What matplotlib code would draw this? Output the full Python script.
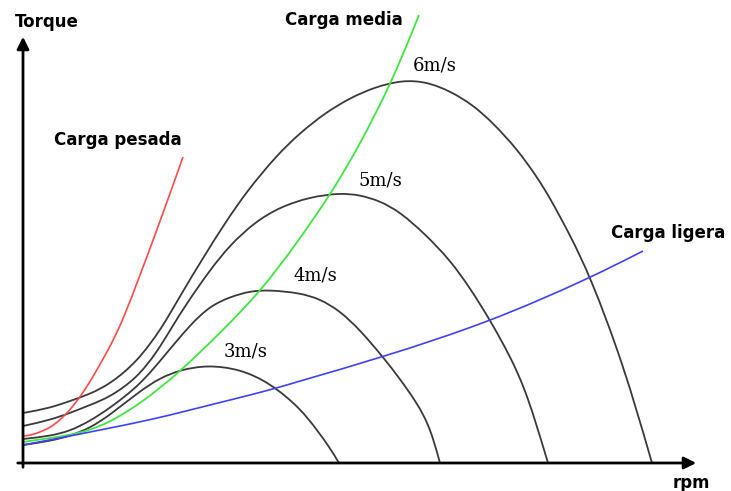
import numpy as np
import matplotlib.pyplot as plt
from matplotlib.path import Path
from matplotlib.patches import PathPatch

# chart units: rpm to the right of the origin, torque above it
rpm_3 = [0, 27, 47, 67, 87, 117, 137, 157, 184, 217, 247, 277, 294, 307, 316]
tq_3 = [18, 22, 27, 35, 48, 72, 85, 93, 98, 94, 80, 55, 33, 15, 0]

rpm_4 = [0, 27, 47, 67, 87, 117, 142, 167, 187, 207, 227, 247, 277, 297, 317, 337, 360, 377, 394, 407, 417]
tq_4 = [24, 27, 32, 42, 55, 78, 108, 138, 157, 166, 172, 173, 170, 164, 152, 133, 106, 84, 60, 36, 0]

rpm_5 = [0, 27, 47, 67, 87, 114, 134, 149, 164, 187, 207, 232, 257, 287, 317, 337, 357, 377, 402, 427, 447, 467, 487, 504, 525]
tq_5 = [37, 43, 50, 58, 66, 85, 111, 136, 160, 193, 218, 241, 256, 266, 270, 268, 262, 251, 229, 203, 175, 143, 107, 70, 0]

rpm_6 = [0, 27, 47, 67, 87, 114, 139, 157, 180, 202, 224, 254, 277, 302, 327, 352, 380, 404, 427, 450, 470, 494, 514, 527, 547, 567, 600, 629]
tq_6 = [50, 55, 62, 69, 79, 101, 135, 167, 205, 240, 272, 308, 330, 350, 365, 376, 383, 381, 372, 358, 340, 314, 286, 265, 228, 187, 100, 0]

rpm_pesada = [0, 10, 27, 37, 47, 57, 67, 87, 100, 117, 134, 160]
tq_pesada = [27, 28, 35, 43, 53, 66, 81, 116, 143, 188, 233, 306]

rpm_media = [0, 27, 47, 67, 87, 117, 157, 200, 237, 274, 307, 334, 369, 396]
tq_media = [21, 25, 28, 33, 41, 59, 91, 133, 171, 220, 268, 313, 381, 448]

rpm_ligera = [0, 37, 77, 127, 167, 207, 247, 277, 360, 467, 567, 620]
tq_ligera = [18, 25, 33, 43, 53, 63, 73, 82, 106, 141, 185, 212]

speed_labels = ['3m/s', '4m/s', '5m/s', '6m/s']


def smooth_path(x, y):
    # the read points used as a clamped cubic B-spline control polygon
    p = np.column_stack([x, y]).astype(float)
    p = np.vstack([p[:1], p[:1], p, p[-1:], p[-1:]])
    verts = [p[0]]
    codes = [Path.MOVETO]
    for i in range(1, len(p) - 2):
        a, b, c, d = p[i - 1], p[i], p[i + 1], p[i + 2]
        verts += [(2 * b + c) / 3, (b + 2 * c) / 3, (b + 4 * c + d) / 6]
        codes += [Path.CURVE4] * 3
    return Path(verts, codes)


fig = plt.figure(figsize=(7.31, 4.91), dpi=100)
ax = fig.add_axes([0, 0, 1, 1])
ax.set_xlim(-23, 708)
ax.set_ylim(-28, 463)
ax.axis('off')

curves = [
    (rpm_3, tq_3, '#3a3a3a', 1.3),
    (rpm_4, tq_4, '#3a3a3a', 1.3),
    (rpm_5, tq_5, '#3a3a3a', 1.3),
    (rpm_6, tq_6, '#3a3a3a', 1.3),
    (rpm_pesada, tq_pesada, '#ff4a4a', 1.2),
    (rpm_media, tq_media, '#3ee63e', 1.3),
    (rpm_ligera, tq_ligera, '#4040ff', 1.2),
]
for r, t, c, w in curves:
    ax.add_patch(PathPatch(smooth_path(r, t), facecolor='none', edgecolor=c, lw=w))

# axes with arrows
ax.annotate('', xy=(676, 0), xytext=(-8, 0),
            arrowprops=dict(arrowstyle='-|>', color='black', lw=2.0, mutation_scale=18))
ax.annotate('', xy=(0, 429), xytext=(0, -7),
            arrowprops=dict(arrowstyle='-|>', color='black', lw=2.0, mutation_scale=18))

bold = dict(fontsize=12, fontweight='bold', family='DejaVu Sans', color='black',
            ha='center', va='center')
ax.text(24, 441, 'Torque', **bold)
ax.text(668, -20, 'rpm', **bold)
ax.text(95, 323, 'Carga pesada', **bold)
ax.text(321, 443, 'Carga media', **bold)
ax.text(645, 230, 'Carga ligera', **bold)

serif = dict(fontsize=13, family='DejaVu Serif', color='black', ha='center', va='center')
label_pos = [(223, 112), (292, 187), (357, 283), (412, 398)]
for lab, (x, y) in zip(speed_labels, label_pos):
    ax.text(x, y, lab, **serif)

fig.savefig('out.png', dpi=100)
